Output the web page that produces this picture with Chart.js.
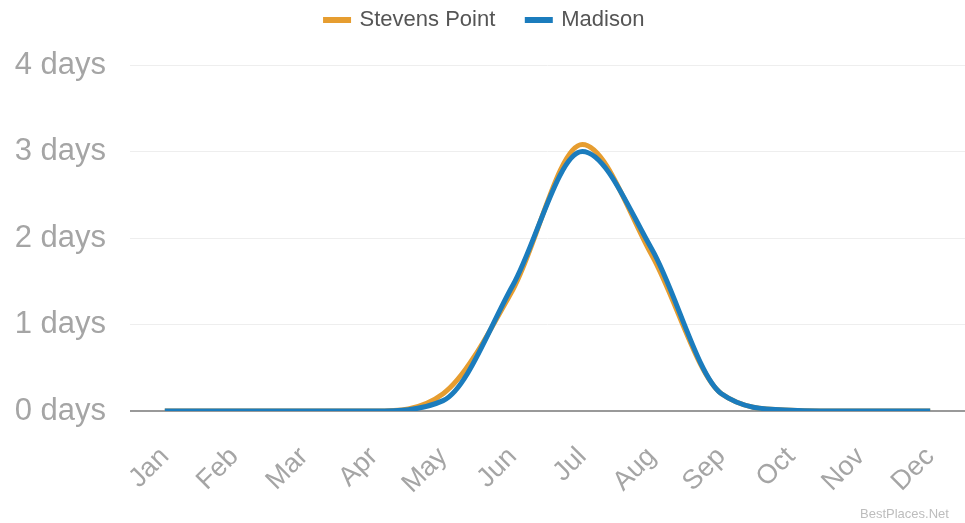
<!DOCTYPE html>
<html>
<head>
<meta charset="utf-8">
<script src="https://cdn.jsdelivr.net/npm/chart.js@4"></script>
<style>
    html, body { margin: 0; padding: 0; background: #fff; }
    #wrap { position: relative; width: 965px; height: 523px; overflow: hidden; }
    #credit {
        position: absolute; left: 860px; top: 506px; white-space: nowrap;
        font: 13px Arial, "Liberation Sans", sans-serif; color: #bdbdbd;
    }
</style>
</head>
<body>
<div id="wrap">
    <canvas id="rainChart" width="965" height="523"></canvas>
    <div id="credit">BestPlaces.Net</div>
</div>
<script>
// Months along the x axis
const months = ['Jan', 'Feb', 'Mar', 'Apr', 'May', 'Jun', 'Jul', 'Aug', 'Sep', 'Oct', 'Nov', 'Dec'];

// Days per month
const stevensPoint = [0, 0, 0, 0, 0.2, 1.4, 3.08, 1.8, 0.2, 0.01, 0, 0];
const madison = [0, 0, 0, 0, 0.12, 1.45, 3.0, 1.87, 0.2, 0.01, 0, 0];

const yTicks = [0, 1, 2, 3, 4];

const FONT = 'Arial, "Liberation Sans", sans-serif';

// Give the legend a fixed height so the plot starts lower
const legendSpace = {
    id: 'legendSpace',
    beforeInit(chart) {
        const fit = chart.legend.fit;
        chart.legend.fit = function () {
            fit.bind(chart.legend)();
            this.height = 88;
        };
    }
};

const ctx = document.getElementById('rainChart').getContext('2d');

new Chart(ctx, {
    type: 'line',
    data: {
        labels: months,
        datasets: [{
            label: 'Stevens Point',
            data: stevensPoint,
            borderColor: '#E69D30',
            backgroundColor: '#E69D30',
            borderWidth: 5,
            pointRadius: 0,
            cubicInterpolationMode: 'monotone',
            order: 1
        }, {
            label: 'Madison',
            data: madison,
            borderColor: '#1B7CBD',
            backgroundColor: '#1B7CBD',
            borderWidth: 5,
            pointRadius: 0,
            cubicInterpolationMode: 'monotone',
            order: 0
        }]
    },
    plugins: [legendSpace],
    options: {
        responsive: false,
        animation: false,
        layout: { padding: { left: 0, right: -5, top: -23, bottom: 1 } },
        scales: {
            y: {
                min: 0,
                max: 4,
                afterBuildTicks: axis => { axis.ticks = yTicks.map(v => ({ value: v })); },
                afterFit: axis => { axis.width = 130; },
                border: { display: false },
                grid: {
                    color: c => c.tick && c.tick.value === 0 ? '#999' : '#eeeeee',
                    lineWidth: c => c.tick && c.tick.value === 0 ? 2 : 1,
                    tickLength: 0
                },
                ticks: {
                    padding: 24,
                    color: '#a5a5a5',
                    font: { size: 31, family: FONT },
                    callback: value => value + ' days'
                }
            },
            x: {
                offset: true,
                afterFit: axis => { axis.paddingLeft = 0; axis.paddingRight = 0; },
                border: { display: false },
                grid: { display: false },
                ticks: {
                    minRotation: 45,
                    maxRotation: 45,
                    padding: 22,
                    color: '#a5a5a5',
                    font: { size: 27, family: FONT }
                }
            }
        },
        plugins: {
            legend: {
                position: 'top',
                labels: {
                    boxWidth: 23,
                    boxHeight: 1,
                    padding: 32,
                    color: '#555',
                    font: { size: 22, family: FONT },
                    sort: (a, b) => a.datasetIndex - b.datasetIndex
                }
            },
            tooltip: { enabled: false }
        }
    }
});
</script>
</body>
</html>
